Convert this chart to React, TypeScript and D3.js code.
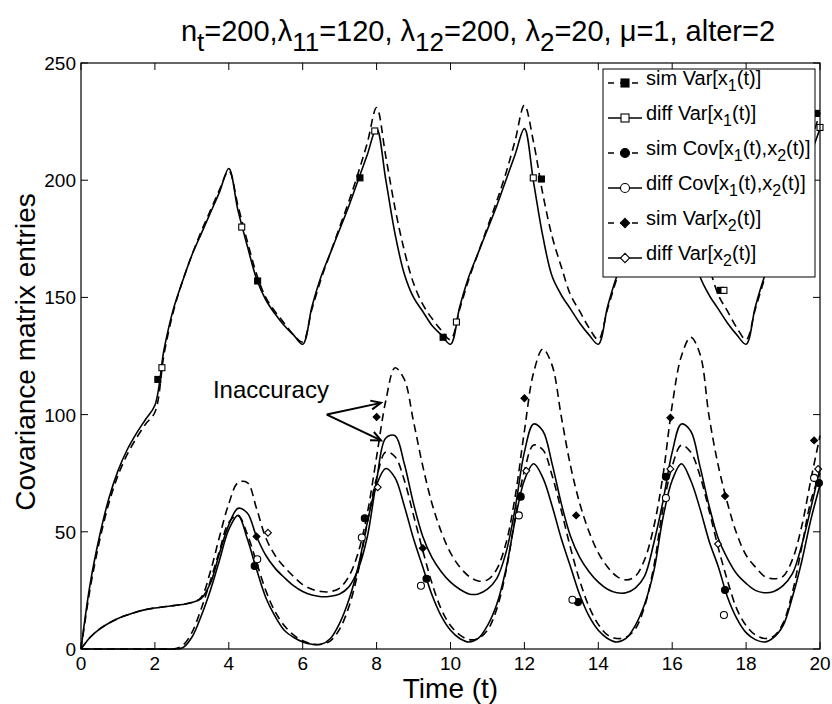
import React from "react";
import * as d3 from "d3";

// ---------- data ----------
const T_STEP = 0.25;
const xTicks = [0, 2, 4, 6, 8, 10, 12, 14, 16, 18, 20];
const yTicks = [0, 50, 100, 150, 200, 250];

// diff Var[x1(t)] (solid)
const diffVar1 = [
  0, 28, 48, 64, 76, 85, 92, 98, 104, 128, 145, 157, 168, 177, 186, 195,
  205, 187, 172, 158, 149, 143, 138, 134, 130, 146, 159, 169, 179, 189, 200, 211,
  222, 200, 177, 160, 150, 144, 138, 134, 130, 146, 159, 169, 179, 189, 200, 211,
  222, 199, 176, 159, 151, 145, 139, 134, 130, 146, 159, 169, 179, 189, 200, 211,
  222, 199, 176, 159, 151, 145, 139, 134, 130, 146, 159, 169, 179, 189, 200, 211,
  222,
];
// sim Var[x1(t)] (dashed)
const simVar1 = [
  0, 26, 46, 62, 74, 83, 90, 96, 101, 126, 144, 157, 168, 178, 187, 196,
  204, 189, 174, 160, 150, 144, 139, 134, 131, 145, 158, 169, 180, 191, 203, 216,
  231, 210, 188, 170, 156, 147, 141, 136, 132, 145, 158, 169, 180, 191, 203, 217,
  232, 216, 194, 176, 163, 151, 144, 137, 132, 145, 158, 169, 180, 191, 203, 217,
  232, 216, 194, 176, 163, 151, 144, 137, 132, 145, 158, 169, 180, 191, 203, 216,
  229,
];
// diff Var[x2(t)] (solid)
const diffVar2 = [
  0, 5, 8.5, 11, 13, 14.5, 15.8, 16.8, 17.5, 18, 18.5, 19, 19.8, 21.5, 28, 41,
  53, 60, 58, 48, 40, 34.5, 30.5, 27, 24.5, 23, 22.3, 22.5, 23.5, 26.5, 34, 48,
  72, 90, 91, 79, 62, 48, 39, 33, 28.5, 25.5, 23.5, 23.5, 25.5, 30, 41, 60,
  84, 96, 93, 79, 62, 48, 39, 33, 28.5, 25.5, 24, 24, 26, 31, 45, 63,
  84, 96, 93, 78, 61, 47, 38.5, 32, 28, 25, 24, 24.5, 27, 32, 44, 60,
  77,
];
// sim Var[x2(t)] (dashed)
const simVar2 = [
  0, 5, 8.5, 11, 13, 14.5, 15.8, 16.8, 17.5, 18, 18.5, 19, 19.8, 22, 33, 48,
  62, 71, 71, 60, 47.5, 40, 35, 31, 27.5, 25.5, 24.5, 24.5, 26, 31, 41, 58,
  82, 106, 120, 115, 97, 78, 62, 50, 41, 35, 31, 29, 29.5, 34, 45, 65,
  93, 118, 128, 121, 99, 78, 62, 50, 41, 35, 31, 29.5, 31, 38, 52, 74,
  104, 125, 133, 126, 99, 78, 62, 49, 40, 35, 31, 30, 31, 38, 52, 72,
  91,
];
// diff Cov[x1(t),x2(t)] (solid)
const diffCov = [
  0, 0, 0, 0, 0, 0, 0, 0, 0, 0, 0, 0.5, 5, 14, 25, 38,
  51, 57, 47, 34, 22, 14, 8, 5, 3, 2, 2, 4.5, 11, 21, 35, 54,
  70, 77, 73, 61, 47, 35, 23, 14, 8, 4.5, 3, 4.5, 10, 19, 34, 55,
  72, 79, 73, 61, 47, 35, 23, 14, 8, 4.5, 3, 4.5, 10, 19, 33, 56,
  72, 79, 72, 60, 46, 35, 22, 13, 7, 4, 3, 5, 10, 22, 37, 55,
  70,
];
// sim Cov[x1(t),x2(t)] (dashed)
const simCov = [
  0, 0, 0, 0, 0, 0, 0, 0, 0, 0, 0, 1.5, 7, 17, 29, 42,
  54, 57, 49, 37, 25, 16, 10, 6, 3.5, 2.2, 2, 3.5, 8.5, 18, 33, 54,
  73, 84, 82, 72, 57, 42, 28, 17, 10, 6, 4, 4.5, 8, 17, 33, 56,
  76, 87, 85, 74, 59, 43, 29, 18, 10.5, 6, 4.5, 5, 8.5, 18, 35, 60,
  78, 87, 84, 74, 59, 43, 29, 17, 10, 6, 4.5, 5.5, 11, 24, 43, 63,
  75,
];

// sparse markers: [t, value]
const simVar1Marks = [[2.08, 115], [4.78, 157], [7.55, 201], [9.8, 133], [12.46, 200.5], [17.3, 153], [19.9, 228.5]];
const diffVar1Marks = [[2.19, 120], [4.35, 180], [7.95, 221], [10.16, 139.5], [12.24, 201], [17.4, 153], [20, 222.5]];
const simCovMarks = [[4.7, 35.4], [7.68, 55.8], [9.35, 30], [11.9, 65], [13.45, 20], [15.83, 73.5], [17.43, 25.2], [19.97, 70.8]];
const diffCovMarks = [[4.77, 38.3], [7.6, 47.6], [9.2, 27], [11.85, 57], [13.3, 21], [15.83, 64.4], [17.4, 14.5], [19.84, 73]];
const simVar2Marks = [[4.75, 48], [8.0, 99], [9.25, 43], [12.0, 107], [13.4, 57], [15.95, 98.7], [17.43, 65.3], [19.84, 89]];
const diffVar2Marks = [[5.06, 49.6], [8.03, 69], [12.05, 76], [15.95, 76.8], [17.24, 44.8], [19.95, 76.8]];

const legendLabels = [
  { pre: "sim Var[x", sub1: "1", mid: "(t)]", sub2: "", post: "" },
  { pre: "diff Var[x", sub1: "1", mid: "(t)]", sub2: "", post: "" },
  { pre: "sim Cov[x", sub1: "1", mid: "(t),x", sub2: "2", post: "(t)]" },
  { pre: "diff Cov[x", sub1: "1", mid: "(t),x", sub2: "2", post: "(t)]" },
  { pre: "sim Var[x", sub1: "2", mid: "(t)]", sub2: "", post: "" },
  { pre: "diff Var[x", sub1: "2", mid: "(t)]", sub2: "", post: "" },
];

// annotation anchor points (data coords)
const annoText = { t: 3.57, v: 107 };
const annoStart = { t: 6.65, v: 100 };
const annoTips = [{ t: 8.12, v: 105 }, { t: 8.12, v: 89 }];

// ---------- layout ----------
const W = 832, H = 704;
const M = { left: 81, right: 820, top: 63, bottom: 649 };
const FONT = "'Liberation Sans', Arial, Helvetica, sans-serif";
const DASH = "8,5";

const x = d3.scaleLinear().domain([0, 20]).range([M.left, M.right]);
const y = d3.scaleLinear().domain([0, 250]).range([M.bottom, M.top]);

const toPts = (arr: number[]) => arr.map((v, i) => [i * T_STEP, v] as [number, number]);
const lineGen = d3
  .line<[number, number]>()
  .x((d) => x(d[0]))
  .y((d) => y(d[1]))
  .curve(d3.curveCatmullRom.alpha(0.5));

type Kind = "square" | "circle" | "diamond";

function Marker({ kind, cx, cy, filled, size }: { kind: Kind; cx: number; cy: number; filled: boolean; size: number }) {
  const fill = filled ? "#000" : "#fff";
  const h = size / 2;
  if (kind === "square")
    return <rect x={cx - h} y={cy - h} width={size} height={size} fill={fill} stroke="#000" strokeWidth={1.1} />;
  if (kind === "circle") return <circle cx={cx} cy={cy} r={h} fill={fill} stroke="#000" strokeWidth={1.1} />;
  const r = h * 1.15;
  return (
    <path
      d={`M${cx},${cy - r}L${cx + r},${cy}L${cx},${cy + r}L${cx - r},${cy}Z`}
      fill={fill}
      stroke="#000"
      strokeWidth={1.1}
    />
  );
}

const series = [
  { data: simVar1, dashed: true, kind: "square" as Kind, filled: true, marks: simVar1Marks },
  { data: diffVar1, dashed: false, kind: "square" as Kind, filled: false, marks: diffVar1Marks },
  { data: simCov, dashed: true, kind: "circle" as Kind, filled: true, marks: simCovMarks },
  { data: diffCov, dashed: false, kind: "circle" as Kind, filled: false, marks: diffCovMarks },
  { data: simVar2, dashed: true, kind: "diamond" as Kind, filled: true, marks: simVar2Marks },
  { data: diffVar2, dashed: false, kind: "diamond" as Kind, filled: false, marks: diffVar2Marks },
];

function Arrow({ x1, y1, x2, y2 }: { x1: number; y1: number; x2: number; y2: number }) {
  const a = Math.atan2(y2 - y1, x2 - x1);
  const L = 11, ang = 0.42;
  const p1 = [x2 - L * Math.cos(a - ang), y2 - L * Math.sin(a - ang)];
  const p2 = [x2 - L * Math.cos(a + ang), y2 - L * Math.sin(a + ang)];
  return (
    <g stroke="#000" strokeWidth={2} fill="none">
      <line x1={x1} y1={y1} x2={x2} y2={y2} />
      <path d={`M${p1[0]},${p1[1]}L${x2},${y2}L${p2[0]},${p2[1]}`} />
    </g>
  );
}

export default function App() {
  const tickLen = 7;
  const legX = 603, legY = 69, legW = 212, legH = 208;
  const rowH = 35;
  const tSub = 26, tDy = 10;
  return (
    <svg width={W} height={H} style={{ position: "absolute", left: 0, top: 0, background: "#fff" }} fontFamily={FONT}>
      <rect width={W} height={H} fill="#fff" />
      {/* title */}
      <text x={478} y={41} fontSize={29} textAnchor="middle">
        <tspan>n</tspan>
        <tspan fontSize={tSub} dy={tDy}>t</tspan>
        <tspan dy={-tDy}>=200,λ</tspan>
        <tspan fontSize={tSub} dy={tDy}>11</tspan>
        <tspan dy={-tDy}>=120, λ</tspan>
        <tspan fontSize={tSub} dy={tDy}>12</tspan>
        <tspan dy={-tDy}>=200, λ</tspan>
        <tspan fontSize={tSub} dy={tDy}>2</tspan>
        <tspan dy={-tDy}>=20, μ=1, alter=2</tspan>
      </text>

      {/* curves */}
      <g fill="none" stroke="#000" strokeWidth={1.6}>
        {series.map((s, i) => (
          <path key={i} d={lineGen(toPts(s.data)) || ""} strokeDasharray={s.dashed ? DASH : undefined} />
        ))}
      </g>
      {/* markers */}
      <g>
        {series.map((s, i) =>
          s.marks.map((m, j) => (
            <Marker key={`${i}-${j}`} kind={s.kind} cx={x(m[0])} cy={y(m[1])} filled={s.filled} size={s.kind === "circle" ? 7 : 6} />
          ))
        )}
      </g>

      {/* axes box and ticks */}
      <rect x={M.left} y={M.top} width={M.right - M.left} height={M.bottom - M.top} fill="none" stroke="#000" strokeWidth={1.2} />
      <g stroke="#000" strokeWidth={1}>
        {xTicks.map((t) => (
          <g key={t}>
            <line x1={x(t)} x2={x(t)} y1={M.bottom} y2={M.bottom - tickLen} />
            <line x1={x(t)} x2={x(t)} y1={M.top} y2={M.top + tickLen} />
          </g>
        ))}
        {yTicks.map((v) => (
          <g key={v}>
            <line x1={M.left} x2={M.left + tickLen} y1={y(v)} y2={y(v)} />
            <line x1={M.right} x2={M.right - tickLen} y1={y(v)} y2={y(v)} />
          </g>
        ))}
      </g>
      <g fontSize={19}>
        {xTicks.map((t) => (
          <text key={t} x={x(t)} y={M.bottom + 21} textAnchor="middle">
            {t}
          </text>
        ))}
        {yTicks.map((v) => (
          <text key={v} x={M.left - 5} y={y(v) + 7} textAnchor="end">
            {v}
          </text>
        ))}
      </g>
      <text x={(M.left + M.right) / 2} y={698} fontSize={28} textAnchor="middle">
        Time (t)
      </text>
      <text transform={`translate(35,${(M.top + M.bottom) / 2 - 4}) rotate(-90)`} fontSize={28} textAnchor="middle">
        Covariance matrix entries
      </text>

      {/* annotation */}
      <text x={x(annoText.t)} y={y(annoText.v)} fontSize={24}>
        Inaccuracy
      </text>
      {annoTips.map((tp, i) => (
        <Arrow key={i} x1={x(annoStart.t)} y1={y(annoStart.v)} x2={x(tp.t)} y2={y(tp.v)} />
      ))}

      {/* legend */}
      <rect x={legX} y={legY} width={legW} height={legH} fill="#fff" stroke="#000" strokeWidth={1} />
      {series.map((s, i) => {
        const cy = legY + 14 + i * rowH;
        const lab = legendLabels[i];
        return (
          <g key={i}>
            <line x1={608} x2={642} y1={cy} y2={cy} stroke="#000" strokeWidth={1.4} strokeDasharray={s.dashed ? "6,6" : undefined} />
            <Marker kind={s.kind} cx={625} cy={cy} filled={s.filled} size={s.kind === "circle" ? 9 : 8} />
            <text x={646} y={cy + 2} fontSize={20}>
              <tspan>{lab.pre}</tspan>
              <tspan fontSize={16} dy={6}>{lab.sub1}</tspan>
              <tspan dy={-6}>{lab.mid}</tspan>
              {lab.sub2 ? (
                <>
                  <tspan fontSize={16} dy={6}>{lab.sub2}</tspan>
                  <tspan dy={-6}>{lab.post}</tspan>
                </>
              ) : null}
            </text>
          </g>
        );
      })}
    </svg>
  );
}
